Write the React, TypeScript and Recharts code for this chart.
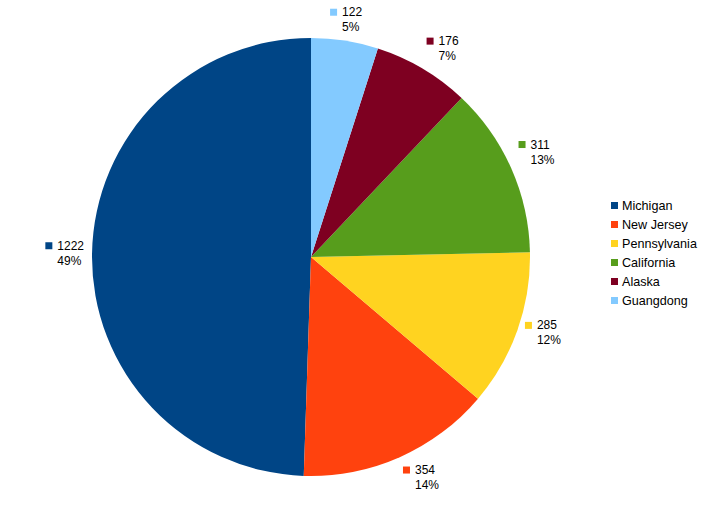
import React from 'react';
import { PieChart, Pie, Cell, Legend } from 'recharts';

const regions = ['Michigan', 'New Jersey', 'Pennsylvania', 'California', 'Alaska', 'Guangdong'];
const counts = [1222, 354, 285, 311, 176, 122];
const colors = ['#004586', '#ff420e', '#ffd320', '#579d1c', '#7e0021', '#83caff'];

const data = regions.map((name, i) => ({ name, value: counts[i] }));

const FONT = '"Liberation Sans", Arial, sans-serif';
const RADIAN = Math.PI / 180;

// rough text width for 12px Liberation Sans
const textWidth = (s: string) =>
  s.split('').reduce((w, ch) => w + (ch === '%' ? 10.7 : 6.67), 0);

// which side of the label block touches the anchor, by 45deg sector (clockwise from top)
// [horizontal: 0 left edge, 0.5 centre, 1 right edge], [vertical: same for top/bottom]
const sectorAlign: [number, number][] = [
  [0.5, 1], [0, 1], [0, 0.5], [0, 0], [0.5, 0], [1, 0], [1, 0.5], [1, 1],
];

const renderLabel = (props: any) => {
  const { cx, cy, midAngle, outerRadius, value, percent, index } = props;
  const r = outerRadius + 8;
  const ax = cx + r * Math.cos(-midAngle * RADIAN);
  const ay = cy + r * Math.sin(-midAngle * RADIAN);
  const valText = String(value);
  const pctText = `${Math.round(percent * 100)}%`;
  const w = 12 + Math.max(textWidth(valText), textWidth(pctText));
  const h = 26;
  const theta = (((90 - midAngle) % 360) + 360) % 360;
  const [hx, vy] = sectorAlign[Math.round(theta / 45) % 8];
  const left = ax - hx * w;
  const top = ay - vy * h;
  return (
    <g>
      <rect x={left} y={top + 2} width={7} height={7} fill={colors[index]} />
      <text x={left + 12} y={top + 9.5} fontSize={12} fontFamily={FONT} fill="#000">
        {valText}
      </text>
      <text x={left + 12} y={top + 24.5} fontSize={12} fontFamily={FONT} fill="#000">
        {pctText}
      </text>
    </g>
  );
};

const renderLegend = () => (
  <div style={{ fontFamily: FONT, fontSize: 12.6, color: '#000' }}>
    {regions.map((name, i) => (
      <div key={name} style={{ display: 'flex', alignItems: 'center', height: 19 }}>
        <span
          style={{ display: 'inline-block', width: 7, height: 7, background: colors[i], marginRight: 4 }}
        />
        <span>{name}</span>
      </div>
    ))}
  </div>
);

const App: React.FC = () => {
  return (
    <div style={{ position: 'absolute', left: 0, top: 0, width: 710, height: 506, background: '#fff' }}>
      <PieChart width={710} height={506} margin={{ top: 0, right: 0, bottom: 0, left: 0 }}>
        <Pie
          data={data}
          dataKey="value"
          nameKey="name"
          cx={311}
          cy={257}
          outerRadius={219}
          startAngle={90}
          endAngle={450}
          stroke="none"
          label={renderLabel}
          labelLine={false}
          isAnimationActive={false}
        >
          {data.map((d, i) => (
            <Cell key={d.name} fill={colors[i]} />
          ))}
        </Pie>
        <Legend
          content={renderLegend}
          layout="vertical"
          wrapperStyle={{ position: 'absolute', left: 611, top: 196, width: 100 }}
        />
      </PieChart>
    </div>
  );
};

export default App;
